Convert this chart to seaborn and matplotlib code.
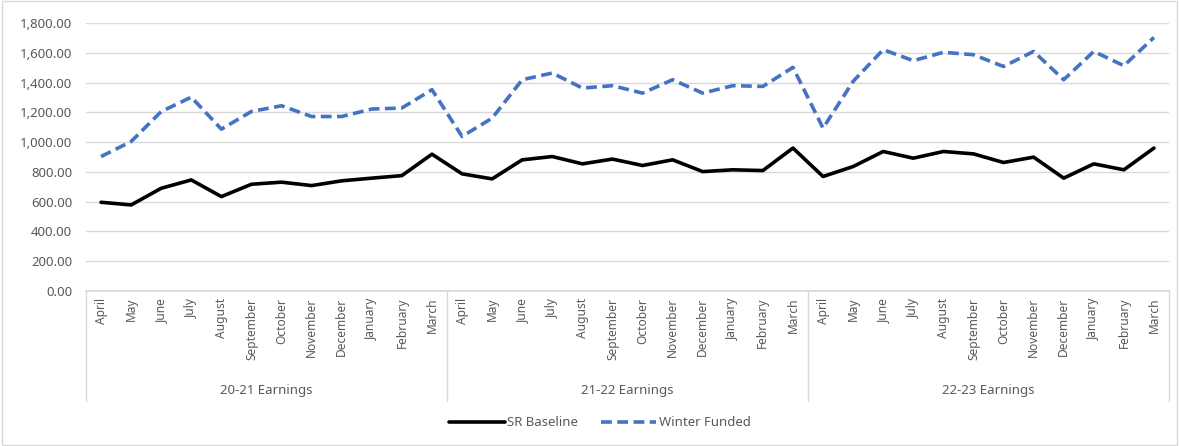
import numpy as np
import pandas as pd
import matplotlib
matplotlib.use("Agg")
import matplotlib.pyplot as plt
import seaborn as sns
from matplotlib.patches import Rectangle
from matplotlib.ticker import FuncFormatter

# --- data ---
months = ["April", "May", "June", "July", "August", "September", "October",
          "November", "December", "January", "February", "March"]
years = ["20-21 Earnings", "21-22 Earnings", "22-23 Earnings"]

sr_baseline = [596, 578, 690, 746, 634, 717, 731, 708, 740, 758, 775, 919,
               787, 753, 881, 903, 854, 886, 843, 881, 802, 814, 809, 960,
               769, 836, 937, 892, 937, 921, 863, 899, 758, 854, 814, 960]
winter_funded = [903, 1004, 1205, 1302, 1087, 1206, 1244, 1172, 1172, 1222, 1229, 1352,
                 1038, 1161, 1419, 1464, 1363, 1379, 1329, 1419, 1329, 1379, 1374, 1502,
                 1094, 1408, 1621, 1547, 1603, 1587, 1508, 1609, 1419, 1609, 1513, 1703]

n = len(sr_baseline)
df = pd.DataFrame({
    "idx": list(range(n)) * 2,
    "value": sr_baseline + winter_funded,
    "series": ["SR Baseline"] * n + ["Winter Funded"] * n,
})

sns.set_theme(style="white")
plt.rcParams["font.family"] = ["Noto Sans", "DejaVu Sans"]
grey = "#595959"

fig = plt.figure(figsize=(11.79, 4.46), dpi=100)
ax = fig.add_axes([86 / 1179, 1 - 291 / 446, 1083 / 1179, 268 / 446])

sns.lineplot(
    data=df, x="idx", y="value", hue="series", style="series",
    palette={"SR Baseline": "black", "Winter Funded": "#4472C4"},
    dashes={"SR Baseline": "", "Winter Funded": (3.0, 1.5)},
    linewidth=2.6, ax=ax,
)

ax.set_xlim(-0.5, n - 0.5)
ax.set_ylim(0, 1800)
ax.set_yticks(np.arange(0, 1801, 200))
ax.yaxis.set_major_formatter(FuncFormatter(lambda v, p: f"{v:,.2f}"))
ax.grid(axis="y", color="#d9d9d9", linewidth=1)
ax.set_axisbelow(True)
for s in ["top", "left", "right"]:
    ax.spines[s].set_visible(False)
ax.spines["bottom"].set_color("#d9d9d9")
ax.tick_params(axis="y", length=0, labelsize=9.5, labelcolor=grey, pad=10)
ax.set_xticks(range(n))
ax.set_xticklabels(months * len(years), rotation=90, va="top")
ax.tick_params(axis="x", length=0, labelsize=8.6, labelcolor=grey, pad=5)
ax.set_xlabel("")
ax.set_ylabel("")

# grouped category axis: separators and year labels
trans = ax.get_xaxis_transform()
for k in range(len(years) + 1):
    xs = k * 12 - 0.5
    ax.plot([xs, xs], [0, -0.41], transform=trans, color="#d9d9d9",
            linewidth=1, clip_on=False)
for k, label in enumerate(years):
    ax.text(k * 12 + 5.5, -0.37, label, transform=trans, ha="center",
            va="center", fontsize=9.5, color=grey)

sns.move_legend(ax, "center", bbox_to_anchor=(0.4746, -0.4925), ncol=2,
                frameon=False, title=None, fontsize=9.5, handlelength=4.2,
                columnspacing=1.7, handletextpad=0.2)
for t in ax.get_legend().get_texts():
    t.set_color(grey)

fig.patches.append(Rectangle((0.002, 0.003), 0.996, 0.994, transform=fig.transFigure,
                             fill=False, edgecolor="#d9d9d9", linewidth=1))

fig.savefig("out.png", dpi=100)
